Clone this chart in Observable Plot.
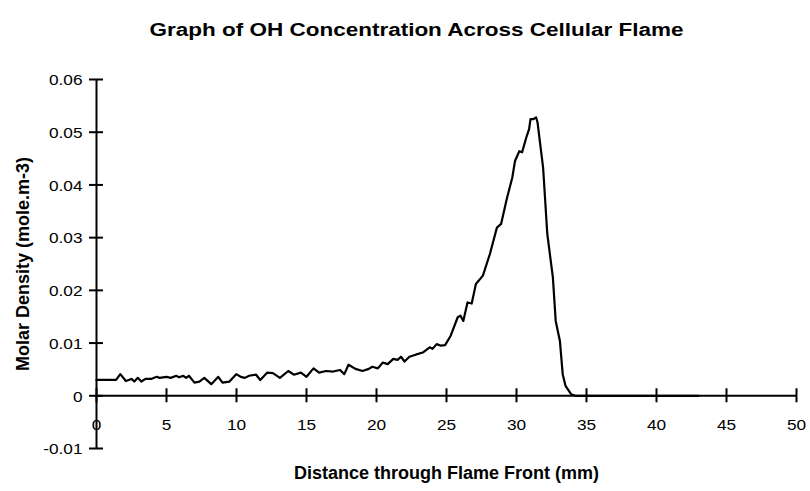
<!DOCTYPE html>
<html>
<head>
<meta charset="utf-8">
<script src="https://cdn.jsdelivr.net/npm/d3@7"></script>
<script src="https://cdn.jsdelivr.net/npm/@observablehq/plot@0.6"></script>
<style>
  html, body { margin: 0; padding: 0; background: #fff; }
  svg { display: block; }
</style>
</head>
<body>
<div id="chart"></div>
<script>
// ---- data ----
const distance = [
  0, 1.4, 1.7, 2.1, 2.5, 2.7, 2.95, 3.2, 3.5, 3.9, 4.3, 4.5, 5.0, 5.3, 5.7, 5.9,
  6.2, 6.4, 6.6, 7.0, 7.35, 7.7, 8.2, 8.7, 9.0, 9.5, 9.98, 10.3, 10.6, 10.9, 11.4,
  11.7, 12.2, 12.6, 13.1, 13.7, 14.1, 14.6, 15.0, 15.5, 15.9, 16.4, 16.9, 17.4,
  17.7, 18.0, 18.5, 19.0, 19.45, 19.7, 20.1, 20.45, 20.8, 21.2, 21.5, 21.75, 22.0,
  22.35, 22.8, 23.3, 23.8, 24.0, 24.3, 24.6, 24.9, 25.3, 25.8, 26.0, 26.2, 26.5,
  26.8, 27.1, 27.6, 28.1, 28.6, 28.9, 29.3, 29.7, 29.9, 30.2, 30.4, 30.7, 30.9,
  31.0, 31.2, 31.4, 31.5, 31.9, 32.2, 32.6, 32.8, 33.1, 33.3, 33.5, 33.9, 34.2, 43.0
];
const molarDensity = [
  0.0030, 0.0030, 0.0041, 0.0028, 0.0032, 0.0027, 0.0034, 0.0027, 0.0032, 0.0032, 0.0036, 0.0034, 0.0036, 0.0034, 0.0038, 0.0035,
  0.0038, 0.0034, 0.0038, 0.0025, 0.0027, 0.0034, 0.0022, 0.0036, 0.0025, 0.0027, 0.0041, 0.0036, 0.0034, 0.0038, 0.0040,
  0.0030, 0.0044, 0.0043, 0.0034, 0.0047, 0.0040, 0.0044, 0.0036, 0.0052, 0.0044, 0.0047, 0.0046, 0.0049,
  0.0041, 0.0059, 0.0051, 0.0047, 0.0051, 0.0055, 0.0052, 0.0063, 0.0060, 0.0070, 0.0068, 0.0074, 0.0065,
  0.0074, 0.0078, 0.0082, 0.0092, 0.0089, 0.0098, 0.0095, 0.0096, 0.0114, 0.0149, 0.0152, 0.0142, 0.0177,
  0.0175, 0.0212, 0.0228, 0.0269, 0.0319, 0.0326, 0.0373, 0.0414, 0.0446, 0.0464, 0.0462, 0.0490, 0.0506,
  0.0525, 0.0525, 0.0528, 0.0519, 0.0433, 0.0307, 0.0224, 0.0142, 0.0104, 0.0041, 0.0019, 0.0003, 0.0000, 0.0000
];
const xTicks = [0, 5, 10, 15, 20, 25, 30, 35, 40, 45, 50];
const xTickLabels = ["0", "5", "10", "15", "20", "25", "30", "35", "40", "45", "50"];
const yTicks = [-0.01, 0, 0.01, 0.02, 0.03, 0.04, 0.05, 0.06];
const yTickLabels = ["-0.01", "0", "0.01", "0.02", "0.03", "0.04", "0.05", "0.06"];
const titleText = "Graph of OH Concentration Across Cellular Flame";
const xLabelText = "Distance through Flame Front (mm)";
const yLabelText = "Molar Density (mole.m-3)";

// ---- build ----
const rows = distance.map((d, i) => ({distance: d, density: molarDensity[i]}));
const font = "'Liberation Sans', Arial, Helvetica, sans-serif";

const chart = Plot.plot({
  width: 810,
  height: 491,
  marginLeft: 96,
  marginRight: 14,
  marginTop: 79,
  marginBottom: 43,
  style: {fontFamily: font, background: "#ffffff", color: "#000000", overflow: "visible"},
  x: {domain: [0, 50], axis: null},
  y: {domain: [-0.01, 0.06], axis: null},
  marks: [
    // axis lines
    Plot.ruleX([0], {y1: -0.01, y2: 0.06, stroke: "#000", strokeWidth: 2}),
    Plot.ruleY([0], {x1: 0, x2: 50, stroke: "#000", strokeWidth: 2}),
    // crossing ticks
    Plot.ruleY(yTicks, {y: d => d, x1: 0, x2: 0, insetLeft: -7, insetRight: -7, stroke: "#000", strokeWidth: 2}),
    Plot.ruleX(xTicks, {x: d => d, y1: 0, y2: 0, insetTop: -7, insetBottom: -7, stroke: "#000", strokeWidth: 2}),
    // tick labels
    Plot.text(yTicks, {x: 0, y: d => d, text: (d, i) => yTickLabels[i], textAnchor: "end", dx: -14, dy: 1,
      fontSize: 15, fill: "#000", ariaDescription: "y tick labels"}),
    Plot.text(xTicks, {x: d => d, y: 0, text: (d, i) => xTickLabels[i], textAnchor: "middle", dy: 29,
      fontSize: 15, fill: "#000", ariaDescription: "x tick labels"}),
    // data line
    Plot.line(rows, {x: "distance", y: "density", stroke: "#000", strokeWidth: 2.2,
      strokeLinejoin: "round", strokeLinecap: "round"}),
    // titles
    Plot.text([titleText], {frameAnchor: "top-left", text: d => d, textAnchor: "middle", dx: 320, dy: -56.5,
      fontSize: 18, fontWeight: "bold", fill: "#000", ariaDescription: "chart title"}),
    Plot.text([xLabelText], {frameAnchor: "bottom", text: d => d, textAnchor: "middle", dy: 30.5,
      fontSize: 18, fontWeight: "bold", fill: "#000", ariaDescription: "x axis label"}),
    Plot.text([yLabelText], {frameAnchor: "left", text: d => d, textAnchor: "middle", rotate: -90, dx: -73,
      fontSize: 18, fontWeight: "bold", fill: "#000", ariaDescription: "y axis label"})
  ]
});

// the reference's tick labels and title are drawn horizontally widened
const tickSet = new Set([...xTickLabels, ...yTickLabels]);
chart.querySelectorAll("text").forEach(t => {
  const s = t.textContent;
  let k = null;
  if (s === titleText) k = 1.25;
  else if (tickSet.has(s)) k = 1.15;
  if (k !== null) {
    const tr = t.getAttribute("transform") || "";
    t.setAttribute("transform", `${tr} scale(${k},1)`);
  }
});

document.getElementById("chart").appendChild(chart);
</script>
</body>
</html>
